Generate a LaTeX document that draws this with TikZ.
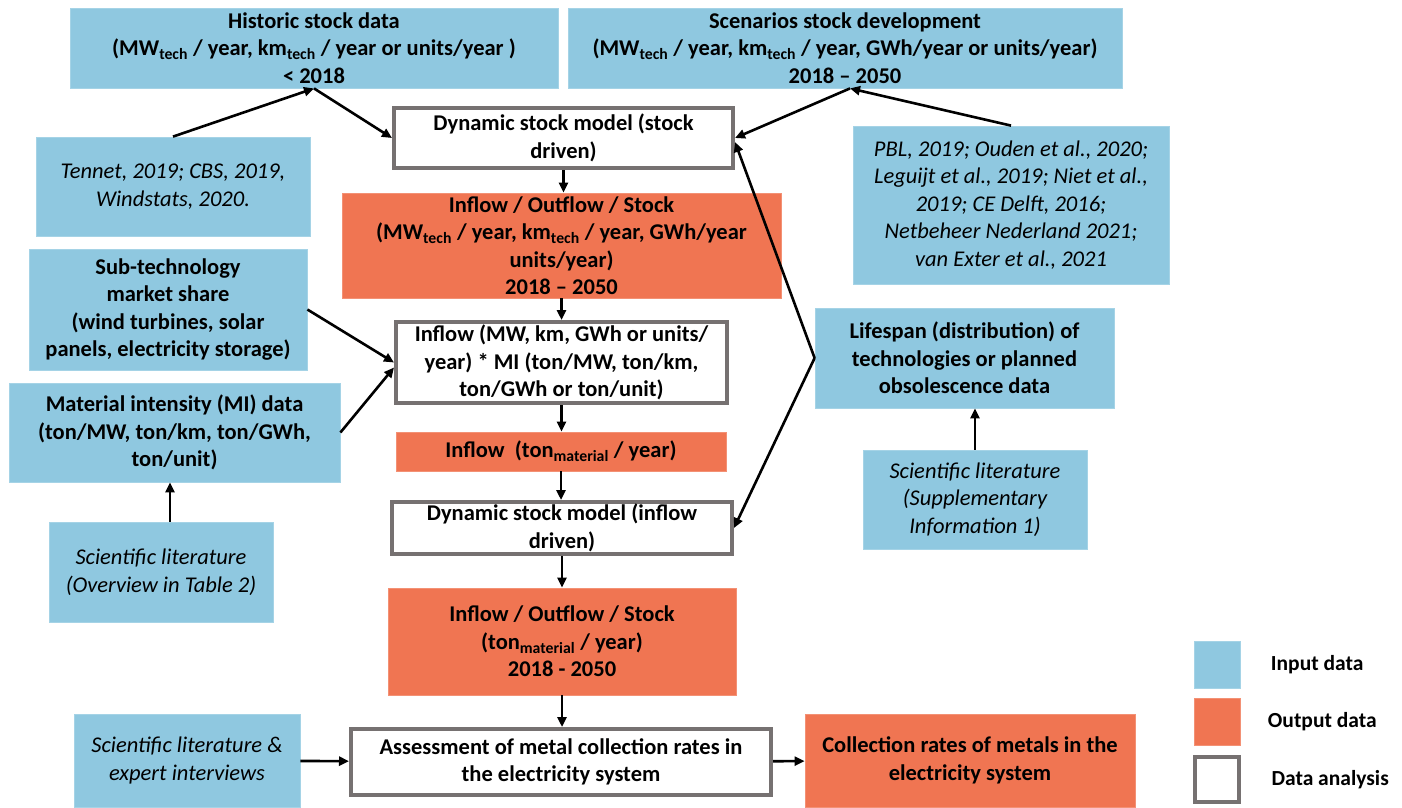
\documentclass[tikz,border=0pt]{standalone}
\usepackage{fontspec}
\setmainfont{Carlito}
\usetikzlibrary{arrows.meta,positioning}
\definecolor{inblue}{RGB}{143,200,224}
\definecolor{outorange}{RGB}{240,117,82}
\definecolor{boxgray}{RGB}{118,113,113}
\newcommand{\tsub}[1]{\textsubscript{#1}}
\tikzset{
  inbox/.style={ % input data
    rectangle, fill=inblue, draw=inblue!80!white, line width=0.8pt,
    inner sep=0pt, align=center, text=black,
    font=\bfseries\fontsize{22.5}{27.5}\selectfont
  },
  refbox/.style={ % input data taken from literature
    inbox, font=\itshape\fontsize{22.5}{27.5}\selectfont
  },
  outbox/.style={ % output data
    rectangle, fill=outorange, draw=outorange!80!white, line width=0.8pt,
    inner sep=0pt, align=center, text=black,
    font=\bfseries\fontsize{22.5}{27.5}\selectfont
  },
  anbox/.style={ % data analysis
    rectangle, fill=white, draw=boxgray, line width=4pt,
    inner sep=0pt, align=center, text=black,
    font=\bfseries\fontsize{22.5}{27.5}\selectfont
  },
  legtext/.style={
    anchor=west, font=\bfseries\fontsize{21.5}{26}\selectfont
  },
  flow/.style={
    -{Triangle[length=10pt,width=9pt]}, line width=2.6pt
  }
}
\begin{document}
\begin{tikzpicture}[x=1pt, y=-1pt]
  \useasboundingbox (0,0) rectangle (1402,807);

  % top row
  \node[inbox, minimum width=488pt, minimum height=80pt] (hist) at (314,48)
    {Historic stock data\\(MW\tsub{tech} / year, km\tsub{tech} / year or units/year )\\< 2018};
  \node[inbox, minimum width=554pt, minimum height=80pt] (scen) at (845,48)
    {Scenarios stock development\\(MW\tsub{tech} / year, km\tsub{tech} / year, GWh/year or units/year)\\2018 -- 2050};

  % left column
  \node[refbox, minimum width=274pt, minimum height=99pt] (tennet) at (173,186.5)
    {Tennet, 2019; CBS, 2019,\\Windstats, 2020.};
  \node[inbox, minimum width=278pt, minimum height=121pt] (subtech) at (168,309.5)
    {Sub-technology\\market share\\(wind turbines, solar\\panels, electricity storage)};
  \node[inbox, minimum width=331pt, minimum height=99pt] (mi) at (174.5,432.5)
    {Material intensity (MI) data\\(ton/MW, ton/km, ton/GWh,\\ton/unit)};
  \node[refbox, minimum width=224pt, minimum height=100pt] (ovw) at (161,572)
    {Scientific literature\\(Overview in Table 2)};
  \node[refbox, minimum width=226pt, minimum height=93pt] (expert) at (187,760.5)
    {Scientific literature \&\\expert interviews};

  % middle column
  \node[anbox, minimum width=339pt, minimum height=60pt] (dsm) at (563.5,138)
    {Dynamic stock model (stock\\driven)};
  \node[outbox, minimum width=439pt, minimum height=105pt] (ios1) at (561.5,245.5)
    {Inflow / Outflow / Stock\\(MW\tsub{tech} / year, km\tsub{tech} / year, GWh/year\\units/year)\\2018 -- 2050};
  \node[anbox, minimum width=331pt, minimum height=81pt] (mimult) at (561.5,362.5)
    {Inflow (MW, km, GWh or units/\\year) * MI (ton/MW, ton/km,\\ton/GWh or ton/unit)};
  \node[outbox, minimum width=330pt, minimum height=39pt] (inton) at (561,451.5)
    {Inflow~~(ton\tsub{material} / year)};
  \node[anbox, minimum width=340pt, minimum height=52pt] (dsmi) at (562,528)
    {Dynamic stock model (inflow\\driven)};
  \node[outbox, minimum width=348pt, minimum height=107pt] (ios2) at (562,641.5)
    {Inflow / Outflow / Stock\\(ton\tsub{material} / year)\\2018 - 2050};
  \node[anbox, minimum width=420pt, minimum height=66pt] (assess) at (561,762)
    {Assessment of metal collection rates in\\the electricity system};

  % right column
  \node[refbox, minimum width=316pt, minimum height=158pt] (pbl) at (1011,205)
    {PBL, 2019; Ouden et al., 2020;\\Leguijt et al., 2019; Niet et al.,\\2019; CE Delft, 2016;\\Netbeheer Nederland 2021;\\van Exter et al., 2021};
  \node[inbox, minimum width=299pt, minimum height=100pt] (life) at (964.5,358)
    {Lifespan (distribution) of\\technologies or planned\\obsolescence data};
  \node[refbox, minimum width=224pt, minimum height=99pt] (supp) at (975,499.5)
    {Scientific literature\\(Supplementary\\Information 1)};
  \node[outbox, minimum width=330pt, minimum height=93pt] (coll) at (970,760.5)
    {Collection rates of metals in the\\electricity system};

  % legend
  \node[inbox, minimum width=46pt, minimum height=47pt] (leg_in) at (1217,664.5) {};
  \node[outbox, minimum width=46pt, minimum height=47pt] (leg_out) at (1217,721.5) {};
  \node[anbox, minimum width=44pt, minimum height=45pt] (leg_an) at (1217,779.5) {};
  \node[legtext] (leg_in_text) [right=27pt of leg_in] {Input data};
  \node[legtext] (leg_out_text) [right=24pt of leg_out] {Output data};
  \node[legtext] (leg_an_text) [right=27pt of leg_an] {Data analysis};

  % connectors
  \draw[flow] (tennet.north) -- (hist.south);
  \draw[flow] (hist.south) -- (dsm.west);
  \draw[flow] (pbl.north) -- ([xshift=5pt]scen.south);
  \draw[flow] ([xshift=5pt]scen.south) -- (dsm.east);
  \draw[flow] (life.west) -- ([yshift=-4pt]dsm.east);
  \draw[flow] (life.west) -- (dsmi.east);
  \draw[flow] (dsm) -- (dsm |- ios1.north);
  \draw[flow] (ios1) -- (ios1 |- mimult.north);
  \draw[flow] (subtech.east) -- (mimult.west);
  \draw[flow] (mi.east) -- ([yshift=-5pt]mimult.west);
  \draw[flow] (mimult) -- (mimult |- inton.north);
  \draw[flow] (inton) -- (inton |- dsmi.north);
  \draw[flow] (dsmi) -- (dsmi |- ios2.north);
  \draw[flow] (ios2) -- (ios2 |- assess.north);
  \draw[flow] ([xshift=9pt]ovw.north) -- ([xshift=9pt]ovw.north |- mi.south);
  \draw[flow] (supp) -- (supp |- life.south);
  \draw[flow] (expert) -- (assess);
  \draw[flow] (assess) -- (coll);
\end{tikzpicture}
\end{document}
